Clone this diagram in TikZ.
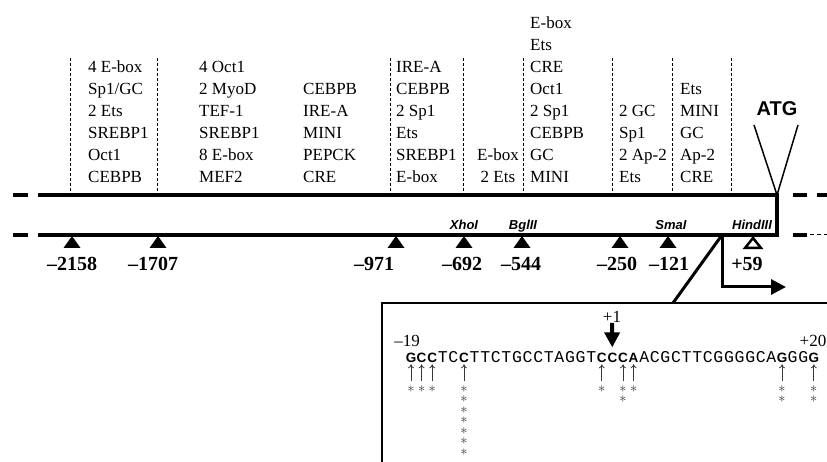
\documentclass[tikz,border=0pt]{standalone}
\usepackage{fontspec}
\setmainfont{Liberation Serif}
\setsansfont{Liberation Sans}
\setmonofont{Liberation Mono}
\usepackage{tikz}
\usetikzlibrary{arrows.meta,positioning,calc}
\definecolor{markgray}{RGB}{55,55,55}
\newcommand{\astk}{$\ast$}

\begin{document}
\begin{tikzpicture}[x=1pt,y=-1pt,dna/.style={line width=4pt},sepline/.style={line width=0.7pt,dash pattern=on 3pt off 2pt},sitecol/.style={align=left,anchor=south west,inner sep=0pt,font=\fontsize{17}{22}\selectfont},poslabel/.style={inner sep=0pt,font=\fontsize{20}{24}\selectfont\bfseries},enz/.style={anchor=base,inner sep=0pt,font=\fontsize{13}{15}\selectfont\sffamily\bfseries\itshape},seqnum/.style={inner sep=0pt,font=\fontsize{17}{17}\selectfont},nb/.style={font=\fontsize{16.5}{16.5}\selectfont\ttfamily},bb/.style={font=\fontsize{13.5}{13.5}\selectfont\sffamily\bfseries},uparr/.style={-{To[length=4pt,width=6pt]},line width=0.8pt,draw=markgray,shorten >=2pt},astx/.style={inner sep=0pt,align=center,anchor=north,text=markgray,font=\fontsize{15.5}{10.5}\selectfont},arr/.style={-{Triangle[length=15pt,width=15pt]},line width=3pt},bigarr/.style={-{Triangle[length=15pt,width=15pt]},line width=4pt,shorten >=5pt}]
\useasboundingbox (0,0) rectangle (827,462); \clip (0,0) rectangle (827,462);
\foreach \x in {70,157,390,463,523,612,672,731} \draw[sepline] (\x,58)--(\x,195);
\node[sitecol](c1) at (88,183){4 E-box\\Sp1/GC\\2 Ets\\SREBP1\\Oct1\\CEBPB}; \node[sitecol](c2) at (199,183){4 Oct1\\2 MyoD\\TEF-1\\SREBP1\\8 E-box\\MEF2};
\node[sitecol](c3) at (303,183){CEBPB\\IRE-A\\MINI\\PEPCK\\CRE}; \node[sitecol](c4) at (396,183){IRE-A\\CEBPB\\2 Sp1\\Ets\\SREBP1\\E-box};
\node[sitecol,align=center](c5) at (477,183){E-box\\2 Ets}; \node[sitecol](c6) at (530,183){E-box\\Ets\\CRE\\Oct1\\2 Sp1\\CEBPB\\GC\\MINI};
\node[sitecol](c7) at (619,183){2 GC\\Sp1\\2 Ap-2\\Ets}; \node[sitecol](c8) at (680,183){Ets\\MINI\\GC\\Ap-2\\CRE};
\node[inner sep=0pt,font=\fontsize{20}{20}\selectfont\sffamily\bfseries](atg) at (777,109){ATG}; \coordinate (atgpt) at (777,195);
\draw[line width=1.5pt] (754,125)--(atgpt)--(798,125);
\draw[dna] (13,195)--(28,195); \draw[dna] (38,195)--(777,195); \draw[dna] (793,195)--(807,195); \draw[dna] (817,195)--(827,195);
\draw[dna] (13,235)--(28,235); \draw[dna] (38,235)-|(777,193); \draw[dna] (793,235)--(807,235); \draw[line width=1pt,dash pattern=on 4pt off 3pt] (810,235)--(827,235);
\foreach \x/\lx/\t [count=\k] in {72/72/2158,158/153/1707,396/374/971,464/462/692,522/521/544,620/617/250,668/669/121}{\fill (\x-8.5,248)--(\x,236)--(\x+8.5,248)--cycle; \node[poslabel](m\k) at (\lx,264){--\t};}
\draw[line width=2.5pt,fill=white] (745,248)--(753,238)--(761,248)--cycle; \node[poslabel](m8) at (747,264){+59};
\node[enz](xho) at (464,230){XhoI}; \node[enz](bgl) at (523,230){BglII}; \node[enz](sma) at (671,230){SmaI}; \node[enz](hind) at (752,230){HindIII};
\coordinate (tss) at (722,235); \coordinate (ins) at (673,303); \coordinate (tip) at (786,287);
\draw[line width=3pt] (tss)--(ins); \draw[arr] (tss)|-(tip);
\draw[line width=2.5pt] (840,303)-|(382,470);
\node[seqnum](s19) at (407,341){--19}; \node[seqnum](s20) at (813,341){+20}; \node[seqnum](plus1) at (612,317){+1};
\foreach \b/\s [count=\i from 0] in {G/bb,C/bb,C/bb,T/nb,C/nb,C/bb,T/nb,T/nb,C/nb,T/nb,G/nb,C/nb,C/nb,T/nb,A/nb,G/nb,G/nb,T/nb,C/bb,C/bb,C/bb,A/bb,A/nb,C/nb,G/nb,C/nb,T/nb,T/nb,C/nb,G/nb,G/nb,G/nb,G/nb,C/nb,A/nb,G/bb,G/nb,G/nb,G/bb}
  \node[\s,anchor=base,inner sep=0pt](n\i) at ({411+10.6*\i},362){\b};
\draw[bigarr] (plus1)--(n19);
\foreach \i/\stars in {0/\astk,1/\astk,2/\astk,5/{\astk\\\astk\\\astk\\\astk\\\astk\\\astk\\\astk},18/\astk,20/{\astk\\\astk},21/\astk,35/{\astk\\\astk},38/{\astk\\\astk}}{
  \coordinate[below=19pt of n\i](u\i); \draw[uparr] (u\i)--(n\i); \node[astx](a\i) at ([yshift=-4pt]u\i){\stars};}
\end{tikzpicture}
\end{document}
